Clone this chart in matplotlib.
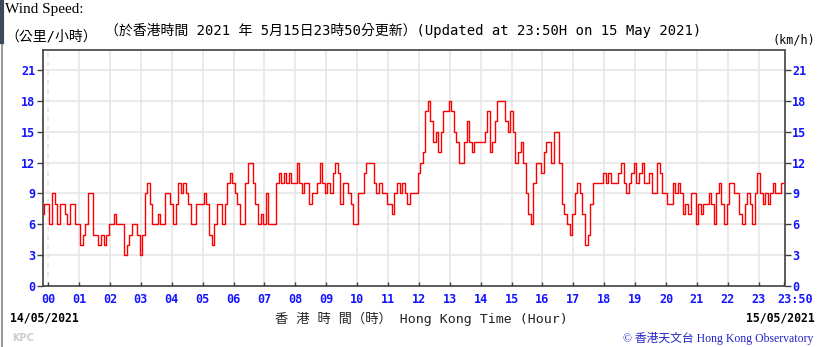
import numpy as np
import matplotlib
matplotlib.use('Agg')
import matplotlib.pyplot as plt
from matplotlib.lines import Line2D

# 5-minute wind speed readings (km/h), from 23:50 on 14/05 to 23:50 on 15/05
start_min = -10
step_min = 5
speed = [
    7, 8,
    8, 6, 9, 8, 6, 8, 8, 7, 6, 8, 8, 6,             # 00
    6, 4, 5, 6, 9, 9, 5, 5, 4, 5, 4, 5,             # 01
    6, 6, 7, 6, 6, 6, 3, 4, 5, 6, 6, 5,             # 02
    3, 5, 9, 10, 8, 6, 6, 7, 6, 6, 9, 9,            # 03
    8, 6, 8, 10, 9, 10, 9, 8, 6, 6, 8, 8,           # 04
    8, 9, 8, 5, 4, 6, 8, 8, 6, 8, 10, 11,           # 05
    10, 9, 8, 6, 6, 10, 12, 12, 10, 8, 6, 7,        # 06
    6, 9, 6, 6, 6, 10, 11, 10, 11, 10, 11, 10,      # 07
    10, 12, 10, 9, 10, 10, 8, 9, 9, 10, 12, 10,     # 08
    9, 10, 9, 11, 12, 11, 8, 10, 10, 9, 8, 6,       # 09
    6, 9, 9, 11, 12, 12, 12, 10, 9, 10, 9, 9,       # 10
    8, 8, 7, 9, 10, 9, 10, 9, 8, 9, 9, 9,           # 11
    11, 12, 13, 17, 18, 16, 14, 15, 13, 15, 17, 17, # 12
    18, 17, 15, 14, 12, 12, 14, 16, 14, 13, 14, 14, # 13
    14, 14, 15, 17, 13, 14, 16, 18, 18, 18, 16, 15, # 14
    17, 15, 12, 13, 14, 12, 9, 7, 6, 10, 12, 12,    # 15
    11, 13, 14, 14, 12, 15, 15, 12, 8, 7, 6, 5,     # 16
    7, 9, 10, 9, 7, 4, 5, 8, 10, 10, 10, 10,        # 17
    11, 10, 11, 10, 10, 10, 11, 12, 10, 9, 10, 11,  # 18
    12, 10, 11, 12, 10, 10, 11, 9, 9, 12, 11, 9,    # 19
    9, 8, 8, 10, 9, 10, 9, 7, 8, 7, 9, 9,           # 20
    6, 8, 7, 8, 8, 9, 8, 6, 9, 10, 8, 6,            # 21
    8, 10, 10, 9, 9, 7, 6, 8, 9, 8, 6, 9,           # 22
    11, 9, 8, 9, 8, 9, 10, 9, 9, 10, 10,            # 23
]
hour_ticks = list(range(24)) + [23 + 50 / 60]
hour_labels = ['%02d' % h for h in range(24)] + ['']
speed_ticks = [0, 3, 6, 9, 12, 15, 18, 21]

W, H = 820, 347
MONO_CJK = ['DejaVu Sans Mono', 'Noto Sans CJK TC']
BLUE = '#1414ff'


def fx(x):
    return x / W


def fy(y):
    return 1 - y / H


fig = plt.figure(figsize=(W / 100, H / 100), dpi=100)
ax = fig.add_axes([fx(43), fy(286), (784.5 - 43) / W, (286 - 49.5) / H])

t = (start_min + step_min * np.arange(len(speed))) / 60
ax.plot(t, speed, color='#ff0000', lw=1.0, drawstyle='steps-mid', zorder=3)

ax.set_xlim(-10 / 60, 23 + 50 / 60)
ax.set_ylim(0, 23)

# grid
for h in range(24):
    ax.axvline(h, color='#e4e4e4', lw=1.1, ls=(0, (3, 3)) if h == 0 else '-', zorder=1)
for v in speed_ticks[1:]:
    ax.axhline(v, color='#e4e4e4', lw=1.1, zorder=1)

for s in ax.spines.values():
    s.set_color('#404040')
    s.set_linewidth(1.2)

ax.set_xticks(hour_ticks)
ax.set_xticklabels(hour_labels)
ax.set_yticks(speed_ticks)
ax.set_yticklabels([str(v) for v in speed_ticks])
ax.tick_params(axis='x', direction='in', length=3, width=1, color='#404040', pad=5)
ax.tick_params(axis='y', direction='out', length=4, width=1, color='#404040', pad=1.5,
               left=True, right=True, labelleft=True, labelright=True)
for lab in ax.get_xticklabels() + ax.get_yticklabels():
    lab.set_family('DejaVu Sans Mono')
    lab.set_fontweight('bold')
    lab.set_fontsize(8.5)
    lab.set_color(BLUE)
# last label sits to the right of its tick, just under the right-hand "0"
fig.text(fx(777), fy(299.5), '23:50', family='DejaVu Sans Mono', fontweight='bold',
         fontsize=8.5, color=BLUE, va='center', ha='left')

# header texts
fig.text(fx(5), fy(10), 'Wind Speed:', family='Liberation Serif', fontsize=11, va='center', ha='left')
fig.text(fx(5), fy(37), '（公里/小時）', family=MONO_CJK, fontsize=10, va='center', ha='left')
fig.text(fx(105), fy(30), '（於香港時間 2021 年 5月15日23時50分更新）(Updated at 23:50H on 15 May 2021)',
         family=MONO_CJK, fontsize=10, va='center', ha='left')
fig.text(fx(815), fy(40), '(km/h)', family='DejaVu Sans Mono', fontsize=8.5, va='center', ha='right')

# footer texts
fig.text(fx(10), fy(318), '14/05/2021', family='DejaVu Sans Mono', fontweight='bold',
         fontsize=8.3, va='center', ha='left')
fig.text(fx(815), fy(318), '15/05/2021', family='DejaVu Sans Mono', fontweight='bold',
         fontsize=8.3, va='center', ha='right')
fig.text(fx(275), fy(319), '香 港 時 間（時） Hong Kong Time (Hour)', family=MONO_CJK,
         fontsize=9.5, va='center', ha='left', color='#222222')
fig.text(fx(12), fy(338), 'KPC', family='DejaVu Sans', fontweight='bold', fontsize=7,
         color='#cccccc', va='center', ha='left')
fig.text(fx(813), fy(338), '© 香港天文台 Hong Kong Observatory', family=['Liberation Serif', 'Noto Sans CJK TC'],
         fontsize=8.5, color='#2323c8', va='center', ha='right')

# screenshot frame on the left edge
fig.add_artist(Line2D([0.002, 0.002], [0, 1], transform=fig.transFigure, color='#9a9a9a', lw=1.5))
fig.add_artist(Line2D([0.002, 0.002], [fy(42), 1], transform=fig.transFigure, color='#3c4a5a', lw=3))

fig.savefig('out.png', dpi=100)
